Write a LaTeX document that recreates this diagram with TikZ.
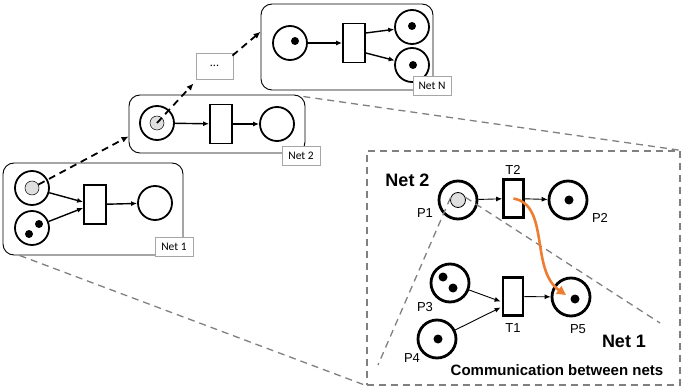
\documentclass[tikz,border=0pt]{standalone}
\usepackage{fontspec}
\setmainfont{Liberation Sans}
\newfontfamily\carl{Carlito}
\usetikzlibrary{arrows.meta,calc}
\begin{document}
\begin{tikzpicture}[x=1pt,y=-1pt,
 netbox/.style={draw, rounded corners=11pt, line width=0.9pt, inner sep=0},
 netlbl/.style={draw=gray!70, fill=white, line width=0.6pt, font=\carl\fontsize{11.5}{12}\selectfont, inner sep=0, minimum width=38pt, minimum height=19pt},
 splace/.style={circle, draw, line width=1.8pt, minimum size=34pt, inner sep=0},
 strans/.style={draw, line width=1.8pt, minimum width=22pt, minimum height=39pt, inner sep=0},
 stok/.style={circle, fill=black, minimum size=8pt, inner sep=0},
 gtok/.style={circle, draw, line width=0.5pt, fill=gray!25, minimum size=14pt, inner sep=0},
 sarr/.style={line width=1.4pt, -{Latex[length=6pt,width=5pt]}},
 darr/.style={line width=1.8pt, dash pattern=on 7pt off 5pt, -{Latex[length=7pt,width=6pt]}},
 zline/.style={draw=gray, line width=1.3pt, dash pattern=on 7pt off 5pt},
 bplace/.style={circle, draw, line width=2.8pt, minimum size=38pt, inner sep=0},
 btrans/.style={draw, line width=2.8pt, minimum width=20pt, minimum height=38pt, inner sep=0},
 btok/.style={circle, fill=black, minimum size=9pt, inner sep=0},
 bgtok/.style={circle, draw, line width=0.8pt, fill=gray!25, minimum size=15pt, inner sep=0},
 barr/.style={line width=0.9pt, -{Latex[length=6pt,width=5pt]}},
 plbl/.style={font=\fontsize{13}{14}\selectfont, inner sep=0},
 ttl/.style={font=\bfseries\fontsize{18}{20}\selectfont, inner sep=0},
 dotbox/.style={draw=gray!70, line width=0.8pt, minimum width=37pt, minimum height=26pt, inner sep=0, font=\carl\fontsize{12}{12}\selectfont},
]
\definecolor{orangeA}{RGB}{237,125,49}
\useasboundingbox (0,0) rectangle (685,390);

% ---------- Net 1 ----------
\node (net1) [netbox, minimum width=180pt, minimum height=92pt] at (93,209) {};
\node (n1a) [splace] at (32,188) {};
\node (n1ag) [gtok] at (32,188) {};
\node (n1b) [splace] at (32,228) {};
\node (n1b1) [stok] at (39,224) {};
\node (n1b2) [stok] at (29,234) {};
\node (n1t) [strans] at (95,204.5) {};
\node (n1c) [splace] at (155,203) {};
\draw[sarr] (n1a) -- ($(n1t.west)+(0,-2.5)$);
\draw[sarr] (n1b) -- ($(n1t.west)+(0,3.5)$);
\draw[sarr] (n1t) -- (n1c);
\node (l1) [netlbl] at (174,246.5) {Net 1};

% ---------- Net 2 ----------
\node (net2) [netbox, minimum width=176pt, minimum height=58pt] at (217,124) {};
\node (n2a) [splace] at (157,123) {};
\node (n2ag) [gtok] at (157,123) {};
\node (n2t) [strans] at (221,124) {};
\node (n2c) [splace] at (277,124) {};
\draw[sarr] (n2a) -- (n2t);
\draw[sarr] (n2t) -- (n2c);
\node (l2) [netlbl] at (301,155.5) {Net 2};

% ---------- Net N ----------
\node (netN) [netbox, minimum width=172pt, minimum height=86pt] at (347,47) {};
\node (nNa) [splace] at (290,43) {};
\node (nNa1) [stok] at (295,41) {};
\node (nNt) [strans] at (354,43) {};
\node (nNb) [splace] at (412,27) {};
\node (nNb1) [stok] at (412,26) {};
\node (nNc) [splace] at (412,65) {};
\node (nNc1) [stok] at (413,65) {};
\draw[sarr] (nNa) -- (nNt);
\draw[sarr] ($(nNt.east)+(0,-10)$) -- (nNb);
\draw[sarr] ($(nNt.east)+(0,10)$) -- (nNc);
\node (lN) [netlbl] at (432,86) {Net N};

% ---------- dots box ----------
\node (dots) [dotbox] at (214.5,66) {...};

% ---------- dashed black arrows ----------
\draw[darr] (n1ag) -- (net2.188);
\draw[darr] (n2ag.center) -- ($(dots.south west)+(-2,4)$);
\draw[darr] ($(dots.north east)+(-1,3)$) -- (netN.170);

% ---------- zoom box ----------
\node (zoom) [draw=gray, line width=1.3pt, dash pattern=on 7pt off 5pt, minimum width=313pt, minimum height=234pt, inner sep=0] at (523.5,268) {};
\draw[zline] ($(net1.south west)+(17,0)$) -- (zoom.south west);
\draw[zline] ($(net2.north east)+(-2,2)$) -- (zoom.north east);

% ---------- zoomed nets ----------
\node (P1) [bplace] at (458,200) {};
\node (P1g) [bgtok] at (458,200) {};
\node (T2) [btrans] at (513.5,198.5) {};
\node (P2) [bplace] at (568,200) {};
\node (P2t) [btok] at (569,200) {};
\node (P3) [bplace] at (450,283) {};
\node (P3a) [btok] at (443,277) {};
\node (P3b) [btok] at (453,288) {};
\node (P4) [bplace] at (437,339) {};
\node (P4t) [btok] at (438,339) {};
\node (T1) [btrans] at (513,296.5) {};
\node (P5) [bplace] at (571,297) {};
\node (P5t) [btok] at (575,299) {};

\draw[barr] (P1) -- (T2);
\draw[barr] (T2) -- (P2);
\draw[barr] (P3) -- ($(T1.west)+(-1,5)$);
\draw[barr] (P4) -- ($(T1.west)+(-1,11)$);
\draw[barr] (T1) -- (P5);

\coordinate (c1) at (378,365);
\coordinate (c2) at (660,323);
\draw[zline] (P1g.165) -- (c1);
\draw[zline] (P1g.20) -- (c2);

\draw[draw=orangeA, line width=2.6pt, -{Triangle[length=9pt,width=9pt]}] (T2.center) .. controls (550,205) and (530,270) .. ($(P5.center)+(-5,-2)$);

% ---------- labels ----------
\node (tn2) [ttl] at (407.5,180) {Net 2};
\node (tn1) [ttl] at (624,341) {Net 1};
\node (tcom) [font=\bfseries\fontsize{15}{16}\selectfont, inner sep=0] at (557,370) {Communication between nets};
\node (lP1) [plbl] at (425,213) {P1};
\node (lP2) [plbl] at (600,218) {P2};
\node (lP3) [plbl] at (425,307) {P3};
\node (lP4) [plbl] at (412,358) {P4};
\node (lP5) [plbl] at (578,329) {P5};
\node (lT1) [plbl] at (513,328) {T1};
\node (lT2) [plbl] at (513,170) {T2};
\end{tikzpicture}
\end{document}
